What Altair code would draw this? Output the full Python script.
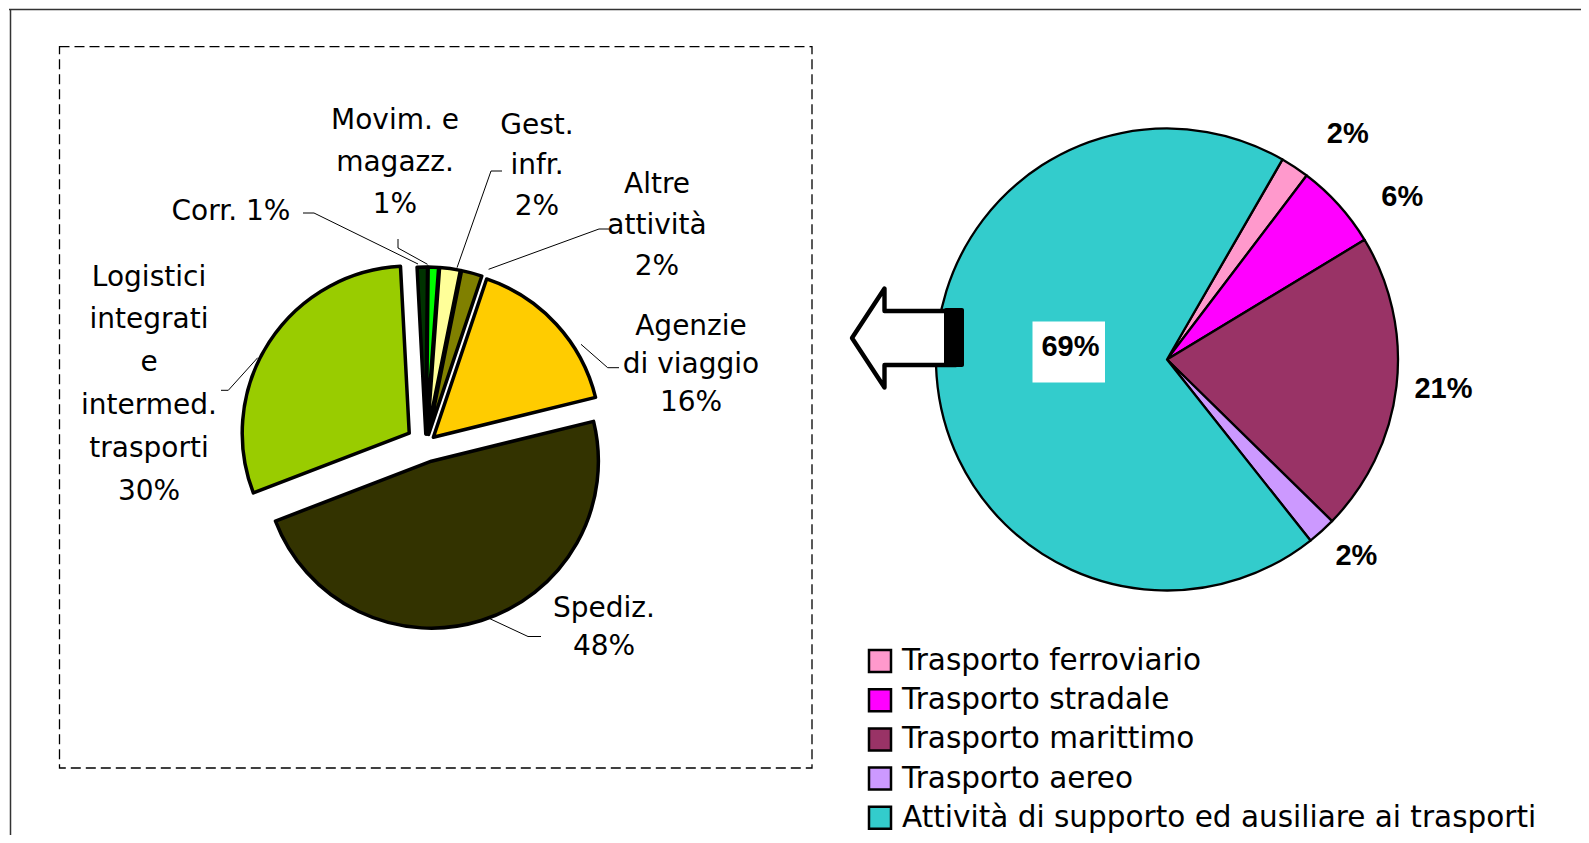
import math
import altair as alt
import pandas as pd

# ---------------- data ----------------
left_cats = ["Corr.", "Movim. e magazz.", "Gest. infr.", "Altre attività",
             "Agenzie di viaggio", "Spediz.", "Logistici integrati e intermed. trasporti"]
left_vals = [1, 1, 2, 2, 16, 48, 30]
left_label_lines = [["Corr."], ["Movim. e", "magazz."], ["Gest.", "infr."], ["Altre", "attività"],
                    ["Agenzie", "di viaggio"], ["Spediz."],
                    ["Logistici", "integrati", "e", "intermed.", "trasporti"]]
left_colors = ["#003300", "#00FF00", "#FFFF99", "#808000", "#FFCC00", "#333300", "#99CC00"]

right_cats = ["Trasporto ferroviario", "Trasporto stradale", "Trasporto marittimo",
              "Trasporto aereo", "Attività di supporto ed ausiliare ai trasporti"]
right_vals = [2, 6, 21, 2, 69]
right_colors = ["#FF99CC", "#FF00FF", "#993366", "#CC99FF", "#33CCCC"]

# ---------------- layout ----------------
W, H = 1573, 827
LCX, LCY, LR = 417, 435, 167
L_ROT = math.radians(-3)
left_explode = [10, 10, 10, 10, 10, 18, 20]
left_pct_inline = [True, False, False, False, False, False, False]
# block centre (x, y) and line pitch for each left label
left_label_xy = [(222, 203), (386, 153.8), (528, 157), (648, 217), (682, 356), (595, 619), (140, 375.6)]
left_label_pitch = [41, 42, 40.5, 41, 37.7, 38.5, 42.8]
left_leaders = [
    [(294, 204), (305, 204), (409, 255)],
    [(389, 230), (389, 239), (418.5, 255.3)],
    [(493, 162), (482, 162), (448, 258.7)],
    [(600, 220), (590, 220), (479.6, 260.3)],
    [(572, 335.3), (598.7, 358.7), (610, 358.7)],
    [(478.7, 608.7), (519, 627.5), (532, 627.5)],
    [(212, 381.3), (219.3, 381.3), (248.7, 348.7)],
]
RCX, RCY, RR = 1158, 350.5, 231
R_ROT = math.radians(30)
right_label_xy = [(1338.7, 124.5), (1393.3, 187.8), (1434.5, 380), (1347.4, 547), (1061.5, 338)]
LEG_X, LEG_Y0, LEG_STEP = 871, 652, 39.2
FONT = "DejaVu Sans"

one = pd.DataFrame({"a": [0]})


def pie_angles(chart, rot):
    return chart.transform_window(
        cum="sum(value)", sort=[alt.SortField("order")], frame=[None, 0]
    ).transform_joinaggregate(total="sum(value)").transform_calculate(
        t0=f"{rot} + 2*PI*(datum.cum - datum.value)/datum.total",
        t1=f"{rot} + 2*PI*datum.cum/datum.total",
    ).transform_calculate(mid="(datum.t0 + datum.t1)/2")


# ---------------- frame & dashed box ----------------
frame_top = alt.Chart(one).mark_rule(color="#333333", strokeWidth=1.5).encode(
    x=alt.value(0), x2=alt.value(W), y=alt.value(0.5))
frame_left = alt.Chart(one).mark_rule(color="#333333", strokeWidth=1.5).encode(
    x=alt.value(1.5), y=alt.value(0), y2=alt.value(H))
dashed_box = alt.Chart(one).mark_rect(
    fill="transparent", stroke="black", strokeWidth=1.3, strokeDash=[10, 5]
).encode(x=alt.value(50.5), x2=alt.value(803), y=alt.value(37.7), y2=alt.value(759))

# ---------------- left pie ----------------
ldf = pd.DataFrame({"cat": left_cats, "value": left_vals,
                    "order": list(range(len(left_cats))), "explode": left_explode})
left_pie = pie_angles(alt.Chart(ldf), L_ROT).transform_calculate(
    cx=f"{LCX} + datum.explode*sin(datum.mid)",
    cy=f"{LCY} - datum.explode*cos(datum.mid)",
).mark_arc(radius=LR, stroke="black", strokeWidth=3.5, strokeJoin="round").encode(
    x=alt.X("cx:Q", scale=None, axis=None),
    y=alt.Y("cy:Q", scale=None, axis=None),
    theta=alt.Theta("t0:Q", scale=None, stack=False),
    theta2=alt.Theta2("t1"),
    color=alt.Color("cat:N", scale=alt.Scale(domain=left_cats, range=left_colors), legend=None),
)

lead_rows = []
for g, pts in enumerate(left_leaders):
    for k, (px, py) in enumerate(pts):
        lead_rows.append({"g": g, "k": k, "x": px, "y": py})
leaders = alt.Chart(pd.DataFrame(lead_rows)).mark_line(color="black", strokeWidth=1).encode(
    x=alt.X("x:Q", scale=None, axis=None), y=alt.Y("y:Q", scale=None, axis=None),
    detail="g:N", order="k:Q")

line_rows = []
for lines, inline, v, (cx, cy), pitch in zip(left_label_lines, left_pct_inline, left_vals,
                                             left_label_xy, left_label_pitch):
    ls = list(lines)
    if inline:
        ls[-1] = f"{ls[-1]} {v}%"
    else:
        ls.append(f"{v}%")
    n = len(ls)
    for i, t in enumerate(ls):
        line_rows.append({"text": t, "x": cx, "y": cy + (i - (n - 1) / 2) * pitch})
left_labels = alt.Chart(pd.DataFrame(line_rows)).mark_text(
    font=FONT, fontSize=28, align="center", baseline="middle", color="black"
).encode(x=alt.X("x:Q", scale=None, axis=None), y=alt.Y("y:Q", scale=None, axis=None), text="text:N")

# ---------------- right pie ----------------
rdf = pd.DataFrame({"cat": right_cats, "value": right_vals, "order": list(range(len(right_cats)))})
right_pie = pie_angles(alt.Chart(rdf), R_ROT).mark_arc(
    radius=RR, stroke="black", strokeWidth=2.3, strokeJoin="round").encode(
    x=alt.value(RCX), y=alt.value(RCY),
    theta=alt.Theta("t0:Q", scale=None, stack=False),
    theta2=alt.Theta2("t1"),
    color=alt.Color("cat:N", scale=alt.Scale(domain=right_cats, range=right_colors), legend=None),
)

# arrow (custom symbol, unit scale with size=4)
arrow_path = "M0,0 L32.5,-49.5 L32.5,-27 L104,-27 L104,27 L32.5,27 L32.5,49.5 Z"
arrow = alt.Chart(one).mark_point(
    shape=arrow_path, size=4, filled=True, fill="white", stroke="black", strokeWidth=4.4,
    strokeJoin="round", opacity=1).encode(x=alt.value(843), y=alt.value(329))
arrow_block = alt.Chart(one).mark_rect(color="black", cornerRadius=2).encode(
    x=alt.value(935), x2=alt.value(955), y=alt.value(299), y2=alt.value(358))

big_x, big_y = right_label_xy[-1]
white_box = alt.Chart(one).mark_rect(color="white").encode(
    x=alt.value(big_x - 38), x2=alt.value(big_x + 34.5), y=alt.value(big_y - 25.5), y2=alt.value(big_y + 35.5))

rtext = pd.DataFrame({"text": [f"{v}%" for v in right_vals],
                      "x": [p[0] for p in right_label_xy], "y": [p[1] for p in right_label_xy]})
right_labels = alt.Chart(rtext).mark_text(
    font="Liberation Sans", fontSize=29, fontWeight="bold", align="center", baseline="middle", color="black"
).encode(x=alt.X("x:Q", scale=None, axis=None), y=alt.Y("y:Q", scale=None, axis=None), text="text:N")

# ---------------- legend ----------------
legdf = pd.DataFrame({"cat": right_cats, "idx": list(range(len(right_cats)))})
leg_base = alt.Chart(legdf).transform_calculate(ly=f"{LEG_Y0} + datum.idx*{LEG_STEP}")
leg_sq = leg_base.mark_square(size=484, filled=True, opacity=1, stroke="black", strokeWidth=2.5).encode(
    x=alt.value(LEG_X), y=alt.Y("ly:Q", scale=None, axis=None),
    color=alt.Color("cat:N", scale=alt.Scale(domain=right_cats, range=right_colors), legend=None))
leg_txt = leg_base.mark_text(font=FONT, fontSize=29.5, align="left", baseline="middle", color="black").encode(
    x=alt.value(LEG_X + 22), y=alt.Y("ly:Q", scale=None, axis=None), text="cat:N")

chart = alt.layer(
    frame_top, frame_left, dashed_box,
    left_pie, leaders, left_labels,
    right_pie, arrow, arrow_block, white_box, right_labels,
    leg_sq, leg_txt,
).resolve_scale(color="independent").properties(
    width=W, height=H, padding=0,
    autosize=alt.AutoSizeParams(type="fit", contains="padding"),
).configure_view(stroke=None)

chart.save("out.html", embed_options={"renderer": "svg", "actions": False})
